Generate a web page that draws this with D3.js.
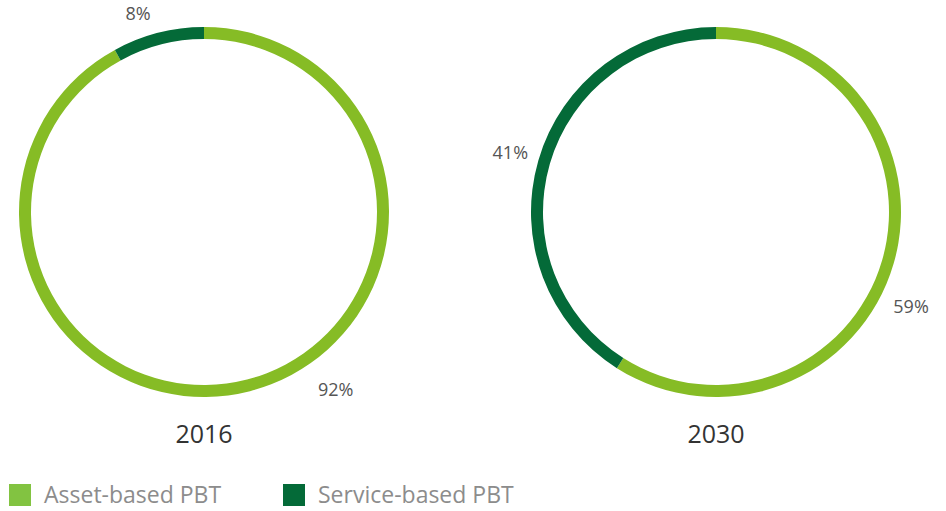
<!DOCTYPE html>
<html>
<head>
<meta charset="utf-8">
<script src="https://cdn.jsdelivr.net/npm/d3@7"></script>
<style>
  body { margin: 0; background: #fff; }
  svg { font-family: "Open Sans", sans-serif; }
</style>
</head>
<body>
<div id="chart"></div>
<script>
// data
var years = ["2016", "2030"]
var categories = ["Asset-based PBT", "Service-based PBT"]
var assetShare = [92, 59]
var serviceShare = [8, 41]

var width = 946
    height = 511

var colors = ["#86bc25", "#046a38"]
var legendColors = ["#82c341", "#046a38"]

var svg = d3.select("#chart")
  .append("svg")
    .attr("width", width)
    .attr("height", height)

// ring geometry
var outerR = 185
    innerR = 173
var centers = [[204, 212], [716, 212]]

// label angles (degrees, clockwise from top) and radii, hand placed like the original
var labelAngles = [[143.4, -18.4], [116, -74]]
var labelRadii = [[221, 209], [217, 214]]

var pie = d3.pie()
  .sort(null)
  .value(d => d.value)

var arcGenerator = d3.arc()
  .innerRadius(innerR)
  .outerRadius(outerR)

years.forEach(function(year, i) {
  var data = [
    {key: categories[0], value: assetShare[i]},
    {key: categories[1], value: serviceShare[i]}
  ]
  var data_ready = pie(data)

  var g = svg.append("g")
    .attr("transform", "translate(" + centers[i][0] + "," + centers[i][1] + ")")

  g.selectAll("path")
    .data(data_ready)
    .enter()
    .append("path")
      .attr("d", arcGenerator)
      .attr("fill", (d, j) => colors[j])

  g.selectAll(".pieText")
    .data(data_ready)
    .enter()
    .append("text")
      .attr("class", "pieText")
      .text(d => d.data.value + "%")
      .attr("x", (d, j) => labelRadii[i][j] * Math.sin(labelAngles[i][j] * Math.PI / 180))
      .attr("y", (d, j) => -labelRadii[i][j] * Math.cos(labelAngles[i][j] * Math.PI / 180))
      .attr("dy", "0.35em")
      .style("text-anchor", "middle")
      .style("font-size", "18px")
      .style("fill", "#555")

  g.append("text")
    .text(year)
    .attr("y", 231)
    .style("text-anchor", "middle")
    .style("font-size", "25px")
    .style("fill", "#333")
})

// legend
var legendX = [9, 283]
var legend = svg.selectAll(".legend")
  .data(categories)
  .enter()
  .append("g")
    .attr("transform", (d, i) => "translate(" + legendX[i] + ",484)")

legend.append("rect")
  .attr("width", 22)
  .attr("height", 22)
  .attr("fill", (d, i) => legendColors[i])

legend.append("text")
  .text(d => d)
  .attr("x", 35)
  .attr("y", 19)
  .style("font-size", "23px")
  .style("fill", "#8c8c8c")
</script>
</body>
</html>
